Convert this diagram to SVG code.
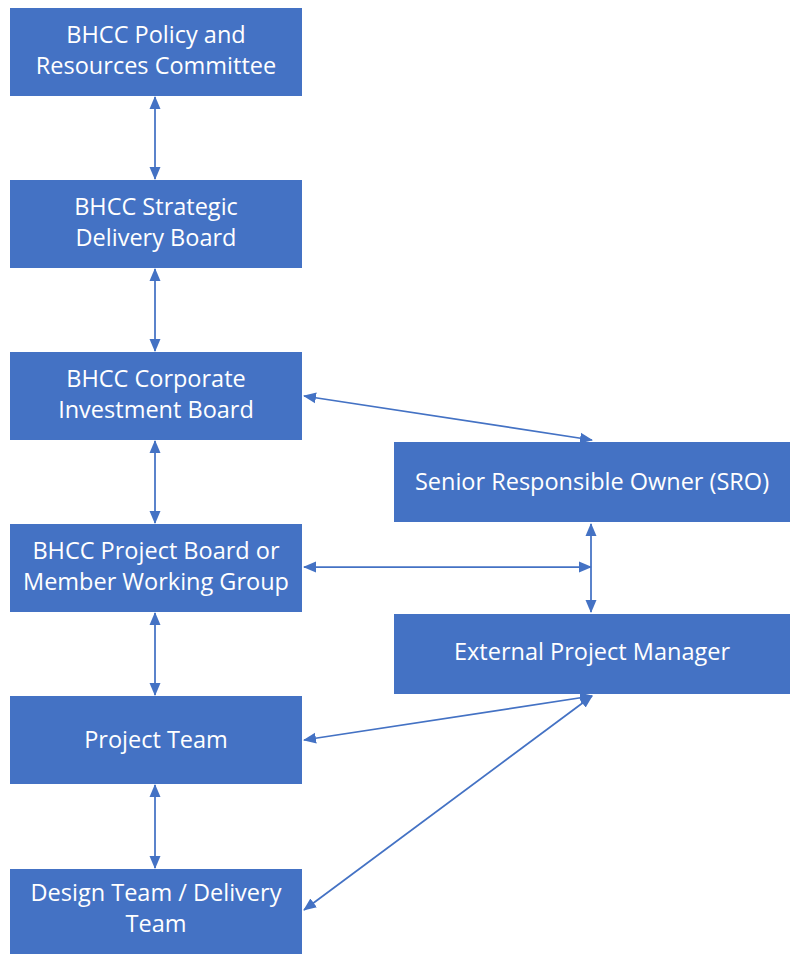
<svg xmlns="http://www.w3.org/2000/svg" width="791" height="954" viewBox="0 0 791 954">
<style>
.box{fill:#4472C4;}
.t{font-family:"Open Sans","Liberation Sans",sans-serif;font-size:23.5px;fill:#ffffff;text-anchor:middle;}
.c{stroke:#4472C4;stroke-width:1.75;fill:none;marker-start:url(#ah);marker-end:url(#ah);}
</style>
<defs>
<marker id="ah" markerUnits="userSpaceOnUse" markerWidth="13" markerHeight="13" viewBox="0 0 13 13" refX="12" refY="6.5" orient="auto-start-reverse">
<path d="M0,1 L13,6.5 L0,12 Z" fill="#4472C4"/>
</marker>
</defs>
<rect width="791" height="954" fill="#ffffff"/>
<g id="connectors">
<line class="c" x1="155" y1="97" x2="155" y2="179"/>
<line class="c" x1="155" y1="269" x2="155" y2="351"/>
<line class="c" x1="155" y1="441" x2="155" y2="523"/>
<line class="c" x1="155" y1="613" x2="155" y2="695"/>
<line class="c" x1="155" y1="785" x2="155" y2="868"/>
<line class="c" x1="304" y1="396" x2="592" y2="440"/>
<line class="c" x1="304" y1="567" x2="591" y2="567"/>
<line class="c" x1="591" y1="524" x2="591" y2="612"/>
<line class="c" x1="592" y1="696" x2="304" y2="740"/>
<line class="c" x1="592" y1="696" x2="304" y2="910"/>
</g>
<g id="n1"><rect class="box" x="10" y="8" width="292" height="88"/><text class="t" x="156" y="43">BHCC Policy and</text><text class="t" x="156" y="74">Resources Committee</text></g>
<g id="n2"><rect class="box" x="10" y="180" width="292" height="88"/><text class="t" x="156" y="215">BHCC Strategic</text><text class="t" x="156" y="246">Delivery Board</text></g>
<g id="n3"><rect class="box" x="10" y="352" width="292" height="88"/><text class="t" x="156" y="387">BHCC Corporate</text><text class="t" x="156" y="418">Investment Board</text></g>
<g id="n4"><rect class="box" x="10" y="524" width="292" height="88"/><text class="t" x="156" y="559">BHCC Project Board or</text><text class="t" x="156" y="590">Member Working Group</text></g>
<g id="n5"><rect class="box" x="10" y="696" width="292" height="88"/><text class="t" x="156" y="748">Project Team</text></g>
<g id="n6"><rect class="box" x="10" y="869" width="292" height="90"/><text class="t" x="156" y="901">Design Team / Delivery</text><text class="t" x="156" y="932">Team</text></g>
<g id="n7"><rect class="box" x="394" y="442" width="396" height="80"/><text class="t" x="592" y="490">Senior Responsible Owner (SRO)</text></g>
<g id="n8"><rect class="box" x="394" y="614" width="396" height="80"/><text class="t" x="592" y="660">External Project Manager</text></g>
</svg>
